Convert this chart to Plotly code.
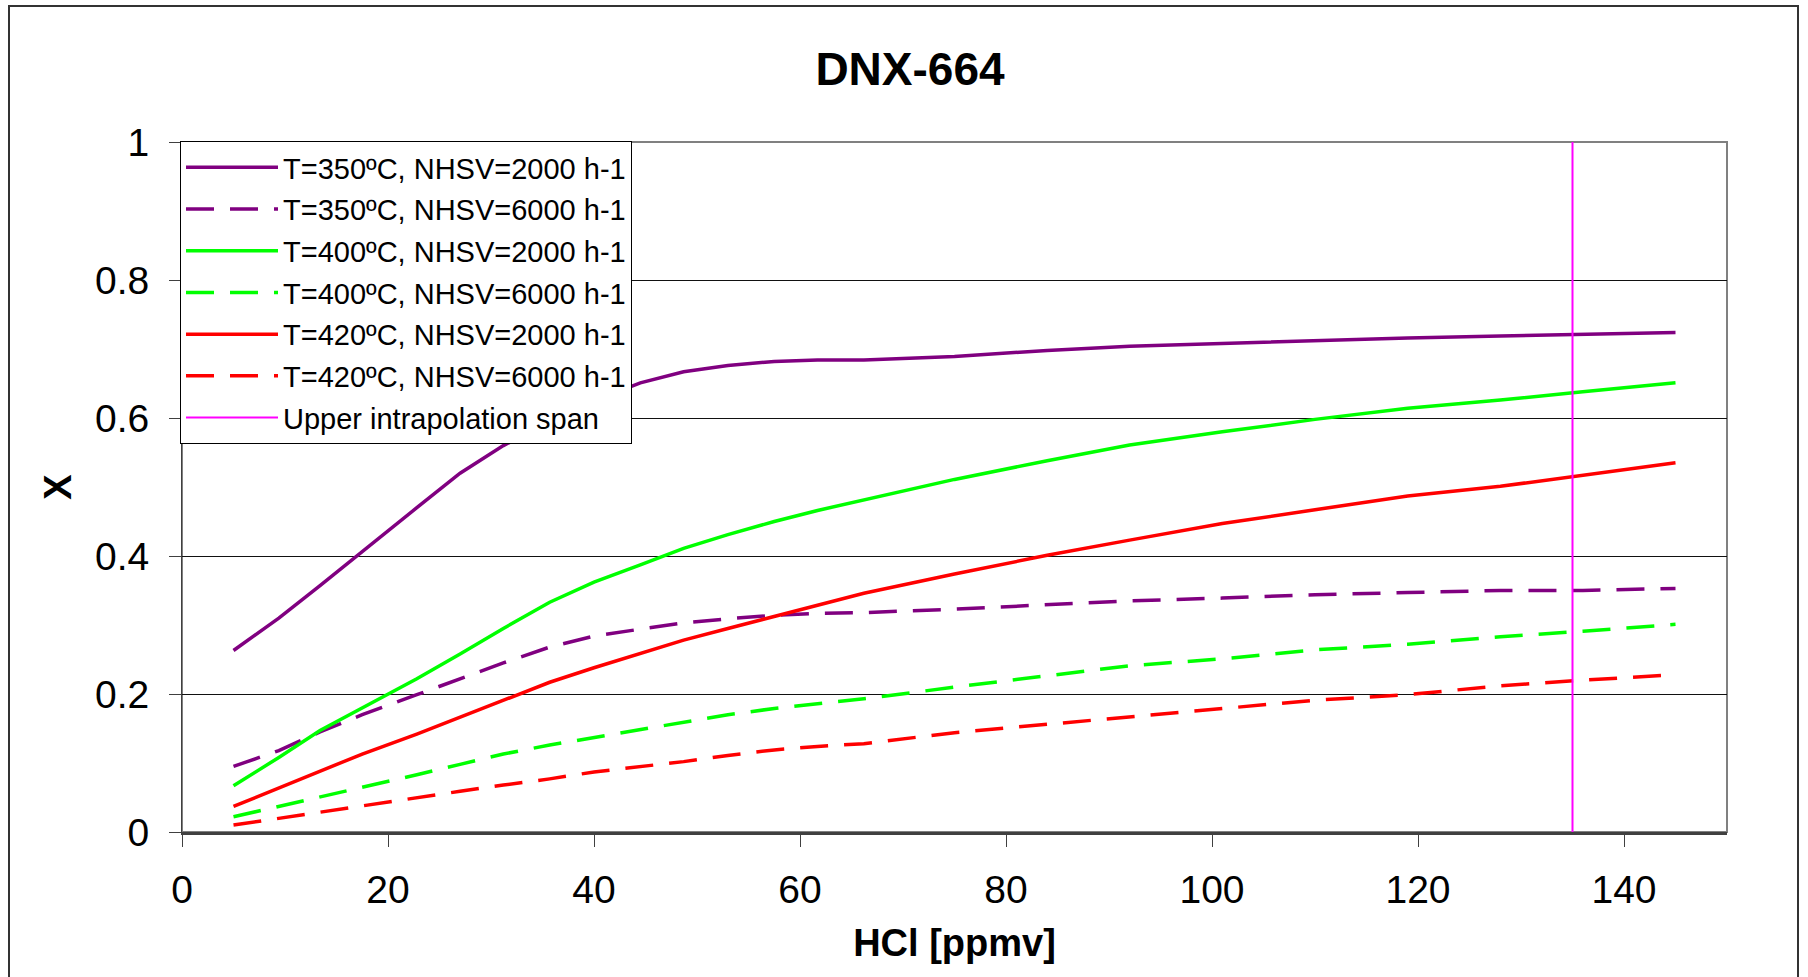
import plotly.graph_objects as go

# ---- data ----
hcl_ppmv = [5, 9.4, 13.4, 17.5, 22.8, 27, 31.2, 35.7, 40, 44.5, 48.7, 53, 57.5,
            61.7, 66.2, 75, 84, 92, 101, 110, 119, 128, 136, 145]

x_350_2000 = [0.263, 0.310, 0.357, 0.407, 0.470, 0.520, 0.560, 0.595, 0.625, 0.651, 0.667, 0.676,
              0.682, 0.684, 0.684, 0.689, 0.698, 0.704, 0.708, 0.713, 0.716, 0.719, 0.721, 0.724]
x_350_6000 = [0.095, 0.118, 0.145, 0.170, 0.199, 0.222, 0.245, 0.268, 0.284, 0.294, 0.303, 0.309,
              0.314, 0.317, 0.318, 0.323, 0.330, 0.335, 0.339, 0.344, 0.347, 0.350, 0.350, 0.353]
x_400_2000 = [0.067, 0.108, 0.147, 0.180, 0.222, 0.258, 0.295, 0.333, 0.362, 0.387, 0.411, 0.431,
              0.450, 0.466, 0.481, 0.511, 0.538, 0.561, 0.580, 0.598, 0.614, 0.626, 0.638, 0.651]
x_400_6000 = [0.022, 0.037, 0.050, 0.065, 0.083, 0.098, 0.113, 0.126, 0.137, 0.149, 0.160, 0.170,
              0.179, 0.186, 0.193, 0.210, 0.226, 0.241, 0.251, 0.264, 0.272, 0.283, 0.291, 0.301]
x_420_2000 = [0.037, 0.064, 0.088, 0.113, 0.142, 0.166, 0.191, 0.217, 0.238, 0.259, 0.278, 0.295,
              0.312, 0.329, 0.346, 0.374, 0.401, 0.423, 0.447, 0.467, 0.487, 0.501, 0.517, 0.535]
x_420_6000 = [0.010, 0.020, 0.028, 0.038, 0.050, 0.059, 0.068, 0.077, 0.087, 0.095, 0.102, 0.111,
              0.119, 0.124, 0.128, 0.144, 0.156, 0.167, 0.178, 0.191, 0.199, 0.212, 0.220, 0.228]

span_x = [135, 135]
span_y = [0, 1]

series_names = ["T=350ºC, NHSV=2000 h-1", "T=350ºC, NHSV=6000 h-1",
                "T=400ºC, NHSV=2000 h-1", "T=400ºC, NHSV=6000 h-1",
                "T=420ºC, NHSV=2000 h-1", "T=420ºC, NHSV=6000 h-1"]
series_values = [x_350_2000, x_350_6000, x_400_2000, x_400_6000, x_420_2000, x_420_6000]
series_colors = ["#800080", "#800080", "#00FF00", "#00FF00", "#FF0000", "#FF0000"]
series_dash = ["solid", "28px,16px", "solid", "28px,16px", "solid", "28px,16px"]

x_ticks = [0, 20, 40, 60, 80, 100, 120, 140]
y_ticks = [0, 0.2, 0.4, 0.6, 0.8, 1]
y_ticklabels = ["0", "0.2", "0.4", "0.6", "0.8", "1"]

FONT = "Liberation Sans, Arial, sans-serif"

fig = go.Figure()
for i, (name, vals, col, dash) in enumerate(zip(series_names, series_values, series_colors, series_dash)):
    fig.add_trace(go.Scatter(x=hcl_ppmv, y=vals, mode="lines", name=name, legendgroup=f"g{i}",
                             line=dict(color=col, width=3.5, dash=dash)))
fig.add_trace(go.Scatter(x=span_x, y=span_y, mode="lines", name="Upper intrapolation span",
                         legendgroup="g6", line=dict(color="#FF00FF", width=2)))

W, H = 1808, 977
L, R, T, B = 182, 1808 - 1727, 142, 977 - 832
pw, ph = W - L - R, H - T - B

def px2paper_x(p):
    return (p - L) / pw

def px2paper_y(p):
    return (H - B - p) / ph

fig.update_layout(
    width=W, height=H,
    margin=dict(l=L, r=R, t=T, b=B, autoexpand=False),
    paper_bgcolor="white", plot_bgcolor="white",
    font=dict(family=FONT, color="black"),
    title=dict(text="<b>DNX-664</b>", font=dict(size=46, family=FONT, color="black"),
               x=910 / W, xanchor="center", xref="container",
               y=1 - 69 / H, yanchor="middle", yref="container"),
    showlegend=True,
    legend=dict(x=px2paper_x(180), y=px2paper_y(141), xanchor="left", yanchor="top",
                bgcolor="white", bordercolor="black", borderwidth=1,
                font=dict(size=29, family=FONT, color="black"),
                itemwidth=92, tracegroupgap=1),
    xaxis=dict(range=[0, 150], tickvals=x_ticks, ticks="outside", ticklen=12,
               tickcolor="#404040", tickwidth=1, automargin=False,
               showgrid=False, zeroline=False, showline=True, linecolor="#404040", linewidth=3,
               tickfont=dict(size=39, family=FONT, color="black"), ticklabelstandoff=9,
               title=dict(text="<b>HCl [ppmv]</b>", font=dict(size=38, family=FONT, color="black"),
                          standoff=20)),
    yaxis=dict(range=[0, 1], tickvals=y_ticks, ticktext=y_ticklabels, ticks="outside", ticklen=12,
               tickcolor="#404040", tickwidth=1, automargin=False,
               showgrid=True, gridcolor="#111111", gridwidth=1, zeroline=False,
               showline=True, linecolor="#404040", linewidth=1,
               tickfont=dict(size=39, family=FONT, color="black"), ticklabelstandoff=12,
               title=dict(text="<b>X</b>", font=dict(size=38, family=FONT, color="black"),
                          standoff=11)),
)

# plot-area frame (gray) and outer chart border
fig.add_shape(type="rect", xref="paper", yref="paper", x0=0, x1=1, y0=0, y1=1,
              line=dict(color="#808080", width=2), layer="below")
fig.add_shape(type="rect", xref="paper", yref="paper",
              x0=px2paper_x(9), x1=px2paper_x(1798), y0=px2paper_y(1000), y1=px2paper_y(6),
              line=dict(color="#333333", width=2), layer="below")

fig.write_html("out.html")
